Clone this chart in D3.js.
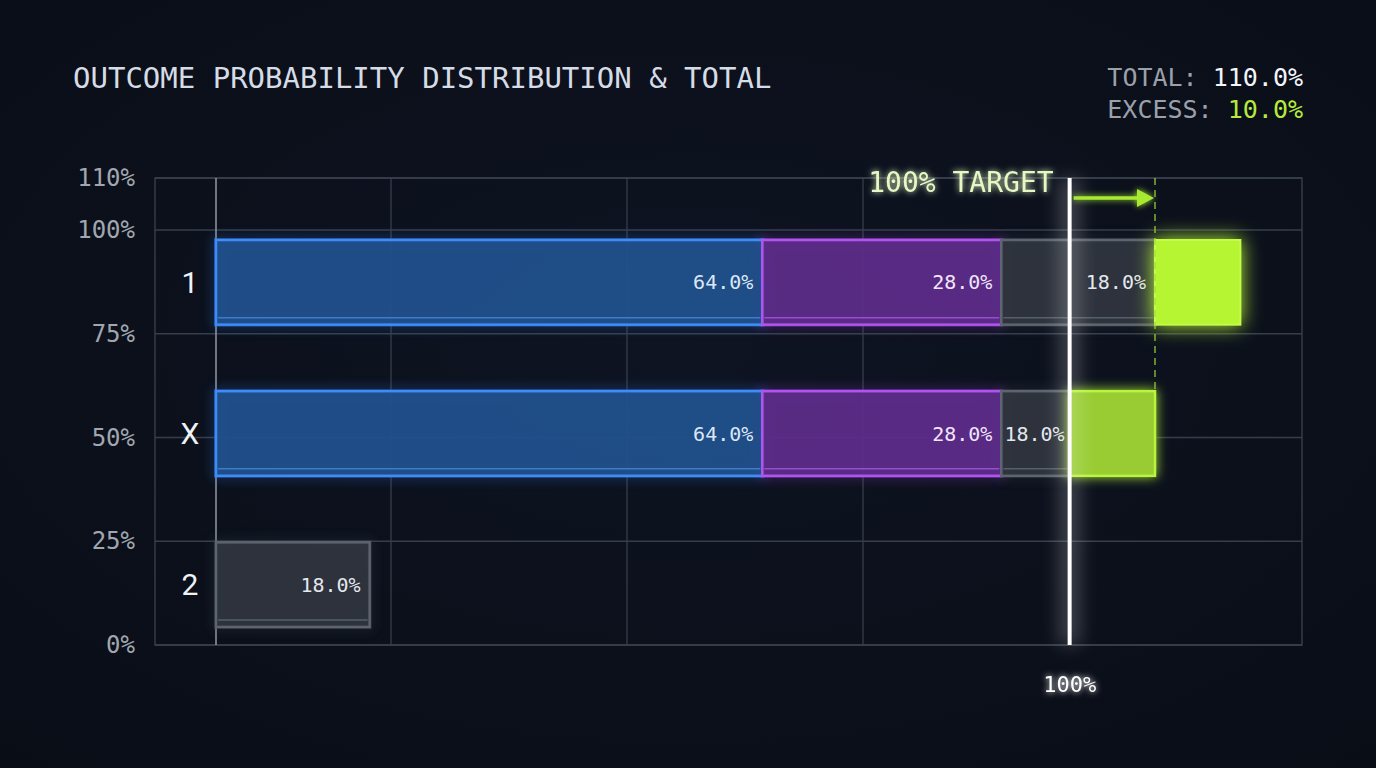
<!DOCTYPE html>
<html><head><meta charset="utf-8">
<script src="https://cdn.jsdelivr.net/npm/d3@7"></script>
<style>
html,body{margin:0;padding:0;background:#0b101a;}
svg{display:block}
</style>
</head><body>
<svg id="chart" width="1376" height="768"></svg>
<script>
// ---------------- DATA ----------------
const categories = ["1", "X", "2"];
const seriesNames = ["blue", "purple", "gray"];
const blueValues = [64, 64, 0];
const purpleValues = [28, 28, 0];
const grayValues = [18, 18, 18];
const excessMode = ["append", "clip", "none"];
const targetValue = 100;
const totalValue = 110;
const excessValue = 10;
const yTickValues = [0, 25, 50, 75, 100, 110];
const yTickLabels = ["0%", "25%", "50%", "75%", "100%", "110%"];
const titleText = "OUTCOME PROBABILITY DISTRIBUTION & TOTAL";

// ---------------- LAYOUT ----------------
const W = 1376, H = 768;
const plot = {left: 155, right: 1302, top: 178, bottom: 645};
const MONO = "'DejaVu Sans Mono', 'Liberation Mono', monospace";

const svg = d3.select("#chart");
const defs = svg.append("defs");

function glow(id, sd) {
  const f = defs.append("filter").attr("id", id)
    .attr("filterUnits", "userSpaceOnUse")
    .attr("x", 0).attr("y", 0).attr("width", W).attr("height", H);
  f.append("feGaussianBlur").attr("in", "SourceGraphic").attr("stdDeviation", sd).attr("result", "b");
  const m = f.append("feMerge");
  m.append("feMergeNode").attr("in", "b");
  m.append("feMergeNode").attr("in", "SourceGraphic");
}
glow("glowS", 3);
glow("glowM", 6);
glow("glowL", 10);
const blurOnly = defs.append("filter").attr("id", "blurWide")
  .attr("filterUnits", "userSpaceOnUse").attr("x", 0).attr("y", 0).attr("width", W).attr("height", H);
blurOnly.append("feGaussianBlur").attr("stdDeviation", 9);

// background
const bg = defs.append("radialGradient").attr("id", "bg").attr("cx", "50%").attr("cy", "45%").attr("r", "75%");
bg.append("stop").attr("offset", "0%").attr("stop-color", "#0e1422");
bg.append("stop").attr("offset", "100%").attr("stop-color", "#090d16");
svg.append("rect").attr("width", W).attr("height", H).attr("fill", "url(#bg)");

// scales
const x = d3.scaleLinear().domain([0, totalValue]).range([216, 1155]);
const y = d3.scaleLinear().domain([0, 100, 110]).range([plot.bottom, 230, plot.top]);
const band = d3.scaleBand().domain(categories).range([240, 627]).paddingInner(0.44).paddingOuter(0);
const gridCols = d3.scaleLinear().domain([0, 5]).range([plot.left, plot.left + 5 * 236]);

// grid
const grid = svg.append("g");
grid.selectAll("line.h").data(yTickValues).join("line")
  .attr("x1", plot.left).attr("x2", plot.right)
  .attr("y1", d => y(d)).attr("y2", d => y(d))
  .attr("stroke", "#363e4b").attr("stroke-width", 1.3);
grid.selectAll("line.v").data([1, 2, 3]).join("line")
  .attr("x1", d => gridCols(d)).attr("x2", d => gridCols(d))
  .attr("y1", plot.top).attr("y2", plot.bottom)
  .attr("stroke", "#363e4b").attr("stroke-width", 1.3);
grid.append("rect").attr("x", plot.left).attr("y", plot.top)
  .attr("width", plot.right - plot.left).attr("height", plot.bottom - plot.top)
  .attr("fill", "none").attr("stroke", "#3a4250").attr("stroke-width", 1.3);
grid.append("line").attr("x1", x(0)).attr("x2", x(0))
  .attr("y1", plot.top).attr("y2", plot.bottom)
  .attr("stroke", "#8b929c").attr("stroke-width", 1.6);

// y tick labels
svg.append("g").selectAll("text").data(yTickValues).join("text")
  .attr("x", 135).attr("y", d => y(d))
  .attr("text-anchor", "end").attr("dominant-baseline", "central")
  .attr("font-family", MONO).attr("font-size", 24).attr("fill", "#a1a7b0")
  .text((d, i) => yTickLabels[i]);

// category labels
svg.append("g").selectAll("text").data(categories).join("text")
  .attr("x", 190).attr("y", d => band(d) + band.bandwidth() / 2)
  .attr("text-anchor", "middle").attr("dominant-baseline", "central")
  .attr("font-family", "Roboto, 'Noto Sans', sans-serif").attr("font-size", 30).attr("fill", "#eef2f7")
  .text(d => d);

// segment styles
const styles = {
  blue:   {fill: "#21508c", stroke: "#3f8cf8", inner: "#4d8fe6", text: "#dce8f7", glow: "#2f7cf0"},
  purple: {fill: "#5d2c89", stroke: "#b154ee", inner: "#b25cf0", text: "#f1e4fb", glow: "#9d3fe0"},
  gray:   {fill: "#2f353e", stroke: "#5d646e", inner: "#6a717b", text: "#e4e8ee", glow: "#444a55"}
};
const seriesValues = {blue: blueValues, purple: purpleValues, gray: grayValues};

const segments = [];
categories.forEach((c, i) => {
  let acc = 0;
  seriesNames.forEach(s => {
    const v = seriesValues[s][i];
    if (v > 0) {
      let end = acc + v;
      let visEnd = end, clipped = false;
      if (excessMode[i] === "clip" && visEnd > targetValue) { visEnd = targetValue; clipped = true; }
      segments.push({cat: c, s, x0: acc, x1: visEnd, v, clipped});
    }
    acc += v;
  });
});

const bars = svg.append("g");
const bh = band.bandwidth();
bars.selectAll("rect.glow").data(segments).join("rect")
  .attr("x", d => x(d.x0)).attr("y", d => band(d.cat))
  .attr("width", d => x(d.x1) - x(d.x0)).attr("height", bh)
  .attr("fill", "none").attr("stroke", d => styles[d.s].glow)
  .attr("stroke-width", 4).attr("opacity", 0.55).attr("filter", "url(#glowM)");
bars.selectAll("rect.seg").data(segments).join("rect")
  .attr("x", d => x(d.x0)).attr("y", d => band(d.cat))
  .attr("width", d => x(d.x1) - x(d.x0)).attr("height", bh)
  .attr("fill", d => styles[d.s].fill).attr("fill-opacity", 0.95)
  .attr("stroke", d => styles[d.s].stroke).attr("stroke-width", 2.5);
bars.selectAll("line.inner").data(segments).join("line")
  .attr("x1", d => x(d.x0) + 2).attr("x2", d => x(d.x1) - 2)
  .attr("y1", d => band(d.cat) + bh - 7).attr("y2", d => band(d.cat) + bh - 7)
  .attr("stroke", d => styles[d.s].inner).attr("stroke-width", 1.5).attr("opacity", 0.7);

// excess marks
const excessG = svg.append("g");
categories.forEach((c, i) => {
  const rowTotal = blueValues[i] + purpleValues[i] + grayValues[i];
  if (excessMode[i] === "append") {
    excessG.append("rect")
      .attr("x", x(rowTotal)).attr("y", band(c))
      .attr("width", x(rowTotal + excessValue) - x(rowTotal)).attr("height", bh)
      .attr("fill", "#b5f530").attr("stroke", "#c4fb4a").attr("stroke-width", 2)
      .attr("filter", "url(#glowL)");
  } else if (excessMode[i] === "clip") {
    excessG.append("rect")
      .attr("x", x(targetValue)).attr("y", band(c))
      .attr("width", x(rowTotal) - x(targetValue)).attr("height", bh)
      .attr("fill", "#98cc32").attr("stroke", "#b9f53c").attr("stroke-width", 2.5)
      .attr("filter", "url(#glowM)");
  }
});

// value labels
bars.selectAll("text.val").data(segments).join("text")
  .attr("x", d => x(d.x1) - (d.clipped ? 5 : 9)).attr("y", d => band(d.cat) + bh / 2)
  .attr("text-anchor", "end").attr("dominant-baseline", "central")
  .attr("font-family", MONO).attr("font-size", 20)
  .attr("fill", d => styles[d.s].text)
  .text(d => d.v.toFixed(1) + "%");

// dashed total line
svg.append("line")
  .attr("x1", x(totalValue)).attr("x2", x(totalValue))
  .attr("y1", plot.top).attr("y2", band("X"))
  .attr("stroke", "#9fd83a").attr("stroke-width", 1.5).attr("stroke-dasharray", "7,5").attr("opacity", 0.8);

// target line
const tl = svg.append("g");
tl.append("rect").attr("x", x(targetValue) - 10).attr("width", 20)
  .attr("y", plot.top).attr("height", plot.bottom - plot.top)
  .attr("fill", "#ffffff").attr("opacity", 0.22).attr("filter", "url(#blurWide)");
tl.append("line").attr("x1", x(targetValue)).attr("x2", x(targetValue))
  .attr("y1", plot.top).attr("y2", plot.bottom)
  .attr("stroke", "#ffffff").attr("stroke-width", 4);

// arrow
const arrowY = 198;
const arrowG = svg.append("g").attr("filter", "url(#glowS)");
arrowG.append("line")
  .attr("x1", x(targetValue) + 4).attr("x2", x(totalValue) - 14)
  .attr("y1", arrowY).attr("y2", arrowY)
  .attr("stroke", "#a8ea32").attr("stroke-width", 3.5);
arrowG.append("path")
  .attr("d", d3.line()([[x(totalValue) - 18, arrowY - 9], [x(totalValue) - 1, arrowY], [x(totalValue) - 18, arrowY + 9]]) + "Z")
  .attr("fill", "#a8ea32");

// target label
svg.append("text")
  .attr("x", x(targetValue) - 16).attr("y", 192)
  .attr("text-anchor", "end")
  .attr("font-family", MONO).attr("font-size", 28).attr("fill", "#e6f9c4")
  .attr("filter", "url(#glowS)")
  .text(targetValue + "% TARGET");

svg.append("text")
  .attr("x", x(targetValue)).attr("y", 692)
  .attr("text-anchor", "middle")
  .attr("font-family", MONO).attr("font-size", 22).attr("fill", "#ffffff")
  .attr("filter", "url(#glowS)")
  .text(targetValue + "%");

// title
svg.append("text").attr("x", 73).attr("y", 88)
  .attr("font-family", MONO).attr("font-size", 29).attr("fill", "#d6dce6")
  .text(titleText);

// totals
const t1 = svg.append("text").attr("x", 1303).attr("y", 86).attr("text-anchor", "end")
  .attr("font-family", MONO).attr("font-size", 25);
t1.append("tspan").attr("fill", "#9aa1ab").text("TOTAL: ");
t1.append("tspan").attr("fill", "#f2f5f9").text(totalValue.toFixed(1) + "%");
const t2 = svg.append("text").attr("x", 1303).attr("y", 118).attr("text-anchor", "end")
  .attr("font-family", MONO).attr("font-size", 25);
t2.append("tspan").attr("fill", "#9aa1ab").text("EXCESS: ");
t2.append("tspan").attr("fill", "#b6ea3c").text(excessValue.toFixed(1) + "%");
</script>
</body></html>
